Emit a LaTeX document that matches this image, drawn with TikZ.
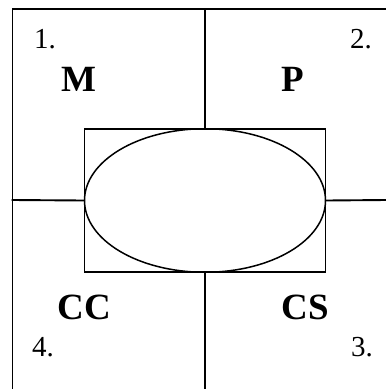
\documentclass[tikz,border=0pt]{standalone}
\usepackage{fontspec}
\setmainfont{Liberation Serif}
\usetikzlibrary{shapes.geometric}
\begin{document}
\begin{tikzpicture}[x=1pt,y=-1pt,
  ln/.style={line width=1.9pt,line cap=rect},
  num/.style={anchor=base west,inner sep=0pt,font=\fontsize{29}{30}\selectfont},
  lbl/.style={anchor=base,inner sep=0pt,font=\fontsize{37}{38}\selectfont\bfseries}]
\useasboundingbox (0,0) rectangle (386,389);
% outer frame (left and top edges visible)
\coordinate (fb) at (12.5,389);
\coordinate (ftl) at (12.5,9);
\coordinate (ftr) at (386,9);
\draw[ln] (fb) -- (ftl) -- (ftr);
% central box and ellipse
\node[draw,line width=1.8pt,minimum width=241pt,minimum height=143.5pt,inner sep=0pt] (box) at (205,200.5) {};
\node[draw,line width=1.5pt,ellipse,minimum width=241pt,minimum height=143.5pt,inner sep=0pt] (ell) at (205,200.5) {};
% cross lines
\coordinate (vt) at (205,9);
\coordinate (vb) at (205,389);
\coordinate (hl) at (12.5,200);
\coordinate (hr) at (386,200);
\draw[ln] (vt) -- (box.north);
\draw[ln] (box.south) -- (vb);
\draw[ln] (hl) -- (box.west);
\draw[ln] (box.east) -- (hr);
% labels
\node[num] (n1) at (34,48) {1.};
\node[num] (n2) at (350,48) {2.};
\node[num] (n3) at (351,356) {3.};
\node[num] (n4) at (32,356) {4.};
\node[lbl] (m) at (79,91) {M};
\node[lbl] (p) at (293,91) {P};
\node[lbl] (cc) at (84.5,319) {CC};
\node[lbl] (cs) at (305.5,319) {CS};
\end{tikzpicture}
\end{document}
